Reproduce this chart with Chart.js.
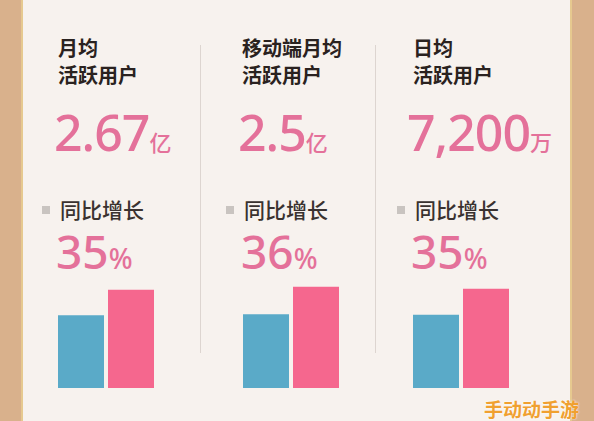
<!DOCTYPE html>
<html><head><meta charset="utf-8">
<script src="https://cdn.jsdelivr.net/npm/chart.js@4"></script>
<style>
body{margin:0;width:594px;height:421px;overflow:hidden;background:#d9b18c;font-family:"Noto Sans CJK SC",sans-serif;}
#paper{position:absolute;left:21px;top:0;width:551px;height:421px;background:#f7f2ee;border-left:2px solid #e6c98f;border-right:2px solid #e6c98f;box-sizing:border-box;}
.t{position:absolute;white-space:nowrap;}
.lab{font-size:20px;font-weight:700;color:#2a2220;line-height:27px;}
.big{font-size:50px;color:#e4719a;font-family:"Noto Sans";font-weight:500;letter-spacing:-1px;}
.big small{font-size:22px;font-family:"Noto Sans CJK SC";letter-spacing:0}
.yoy{font-size:21px;color:#3a3230;font-weight:500}
.yoy i{display:inline-block;width:8px;height:8px;background:#c9c4c0;margin-right:10px;vertical-align:middle;position:relative;top:-2px}
.pct{font-size:46px;color:#e4719a;font-family:"Noto Sans";font-weight:500}
.pct small{font-size:28px}
.div{position:absolute;top:45px;height:308px;width:1px;background:#ddd5d0;}
canvas{position:absolute;}
</style></head><body>
<div id="paper"></div>
<div class="div" style="left:200px"></div>
<div class="div" style="left:375px"></div>
<div class="t lab" style="left:58px;top:34px">月均<br>活跃用户</div>
<div class="t lab" style="left:242px;top:34px">移动端月均<br>活跃用户</div>
<div class="t lab" style="left:413px;top:34px">日均<br>活跃用户</div>
<div class="t big" style="left:54px;top:98px">2.67<small>亿</small></div>
<div class="t big" style="left:238px;top:98px">2.5<small>亿</small></div>
<div class="t big" style="left:407px;top:98px">7,200<small>万</small></div>
<div class="t yoy" style="left:42px;top:194px"><i></i>同比增长</div>
<div class="t yoy" style="left:226px;top:194px"><i></i>同比增长</div>
<div class="t yoy" style="left:397px;top:194px"><i></i>同比增长</div>
<div class="t pct" style="left:56px;top:220px">35<small>%</small></div>
<div class="t pct" style="left:241px;top:220px">36<small>%</small></div>
<div class="t pct" style="left:411px;top:220px">35<small>%</small></div>
<div class="t" style="left:484px;top:395px;font-size:19px;font-weight:700;color:#f0a030;text-shadow:0 0 2px #fff">手动动手游</div>
<canvas id="c0" style="left:56px;top:278px" width="100" height="110"></canvas>
<canvas id="c1" style="left:241px;top:278px" width="100" height="110"></canvas>
<canvas id="c2" style="left:411px;top:278px" width="100" height="110"></canvas>
<script>
const categories=["月均活跃用户","移动端月均活跃用户","日均活跃用户"];
const previousYear=[74,75,74.5];
const currentYear=[100,103,101];
categories.forEach((c,i)=>{
 new Chart(document.getElementById('c'+i),{type:'bar',
  data:{labels:[c],datasets:[
   {data:[previousYear[i]],backgroundColor:'#5aaac8',barPercentage:0.92,categoryPercentage:1},
   {data:[currentYear[i]],backgroundColor:'#f5678e',barPercentage:0.92,categoryPercentage:1}]},
  options:{responsive:false,animation:false,layout:{padding:0},
   plugins:{legend:{display:false},tooltip:{enabled:false}},
   scales:{x:{display:false},y:{display:false,min:0,max:112}}}});
});
</script>
</body></html>
